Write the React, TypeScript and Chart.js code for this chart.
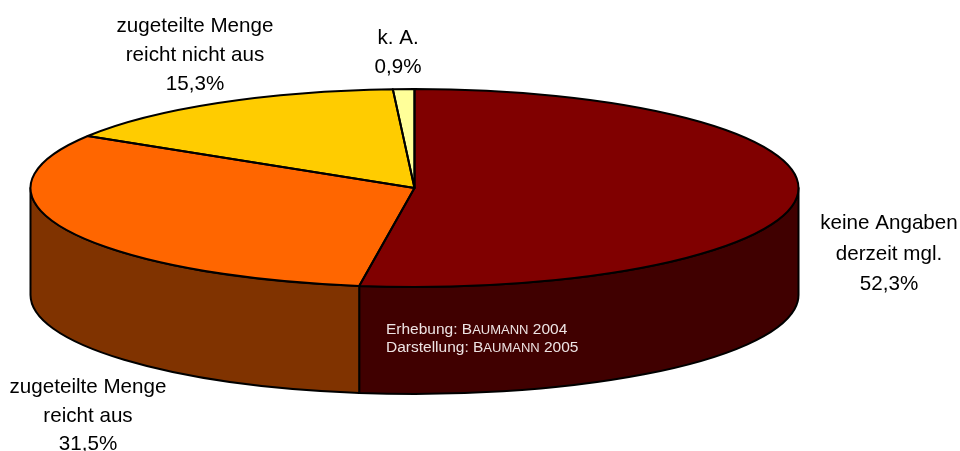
import React, { useEffect, useRef } from "react";
import { Chart, registerables } from "chart.js";

Chart.register(...registerables);

const categories = ["keine Angaben derzeit mgl.", "zugeteilte Menge reicht aus", "zugeteilte Menge reicht nicht aus", "k. A."];
const values = [52.3, 31.5, 15.3, 0.9];
const topColors = ["#800000", "#FF6600", "#FFCC00", "#FFFF99"];
const sideColors = ["#400000", "#803300", "#806600", "#80804D"];
const labelLines = [
  ["keine Angaben", "derzeit mgl.", "52,3%"],
  ["zugeteilte Menge", "reicht aus", "31,5%"],
  ["zugeteilte Menge", "reicht nicht aus", "15,3%"],
  ["k. A.", "0,9%"],
];
const labelAnchors = [
  { x: 889, y: 229, step: 30.5 },
  { x: 88, y: 393, step: 28.7 },
  { x: 195, y: 31.5, step: 29 },
  { x: 398, y: 44, step: 29 },
];
const creditLines = [
  [["Erhebung: B", false], ["AUMANN", true], [" 2004", false]],
  [["Darstellung: B", false], ["AUMANN", true], [" 2005", false]],
] as [string, boolean][][];

const RX = 384;
const RY = 99;
const DEPTH = 107;
const LABEL_FONT = '20.6px "Liberation Sans", Arial, sans-serif';
const CREDIT_FONT = '15.5px "Liberation Sans", Arial, sans-serif';
const CREDIT_SMALL_FONT = '13px "Liberation Sans", Arial, sans-serif';
const STROKE = 2;

const pie3d = {
  id: "pie3d",
  beforeDatasetsDraw(chart: any) {
    const ctx = chart.ctx;
    const arcs = chart.getDatasetMeta(0).data;
    const cx = arcs[0].x;
    const cy = arcs[0].y;
    const R = arcs[0].outerRadius;
    ctx.save();
    ctx.lineWidth = STROKE;
    ctx.strokeStyle = "#000";
    ctx.lineJoin = "round";
    arcs.forEach((arc: any, i: number) => {
      const a0 = Math.max(arc.startAngle, 0);
      const a1 = Math.min(arc.endAngle, Math.PI);
      if (a1 <= a0) return;
      ctx.beginPath();
      ctx.ellipse(cx, cy, RX, RY, 0, a0, a1);
      ctx.ellipse(cx, cy + DEPTH, RX, RY, 0, a1, a0, true);
      ctx.closePath();
      ctx.fillStyle = sideColors[i];
      ctx.fill();
      ctx.stroke();
    });
    ctx.restore();
    ctx.save();
    ctx.translate(cx, cy);
    ctx.scale(RX / R, RY / R);
    ctx.translate(-cx, -cy);
  },
  afterDatasetsDraw(chart: any) {
    const ctx = chart.ctx;
    ctx.restore();
    const arcs = chart.getDatasetMeta(0).data;
    const cx = arcs[0].x;
    const cy = arcs[0].y;
    ctx.save();
    ctx.lineWidth = STROKE;
    ctx.strokeStyle = "#000";
    ctx.lineJoin = "round";
    arcs.forEach((arc: any) => {
      ctx.beginPath();
      ctx.moveTo(cx, cy);
      ctx.ellipse(cx, cy, RX, RY, 0, arc.startAngle, arc.endAngle);
      ctx.closePath();
      ctx.stroke();
    });
    ctx.restore();

    ctx.save();
    ctx.fillStyle = "#000";
    ctx.font = LABEL_FONT;
    ctx.textAlign = "center";
    ctx.textBaseline = "alphabetic";
    labelLines.forEach((lines, i) => {
      lines.forEach((line, j) => {
        ctx.fillText(line, labelAnchors[i].x, labelAnchors[i].y + j * labelAnchors[i].step);
      });
    });
    ctx.fillStyle = "#EDE3E3";
    ctx.textAlign = "left";
    creditLines.forEach((parts, j) => {
      let x = 386;
      parts.forEach(([text, small]) => {
        ctx.font = small ? CREDIT_SMALL_FONT : CREDIT_FONT;
        ctx.fillText(text, x, 334 + j * 18);
        x += ctx.measureText(text).width;
      });
    });
    ctx.restore();
  },
};

export default function App() {
  const ref = useRef<HTMLCanvasElement | null>(null);
  useEffect(() => {
    const chart = new Chart(ref.current as HTMLCanvasElement, {
      type: "pie",
      data: {
        labels: categories,
        datasets: [{ data: values, backgroundColor: topColors, borderWidth: 0 }],
      },
      options: {
        animation: false,
        responsive: false,
        layout: { padding: { left: 0, right: 131, top: 0, bottom: 75 } },
        plugins: { legend: { display: false }, tooltip: { enabled: false } },
      },
      plugins: [pie3d],
    } as any);
    return () => chart.destroy();
  }, []);
  return (
    <div style={{ position: "fixed", left: 0, top: 0, width: 960, height: 451, background: "#fff" }}>
      <canvas ref={ref} width={960} height={451} style={{ display: "block" }} />
    </div>
  );
}
